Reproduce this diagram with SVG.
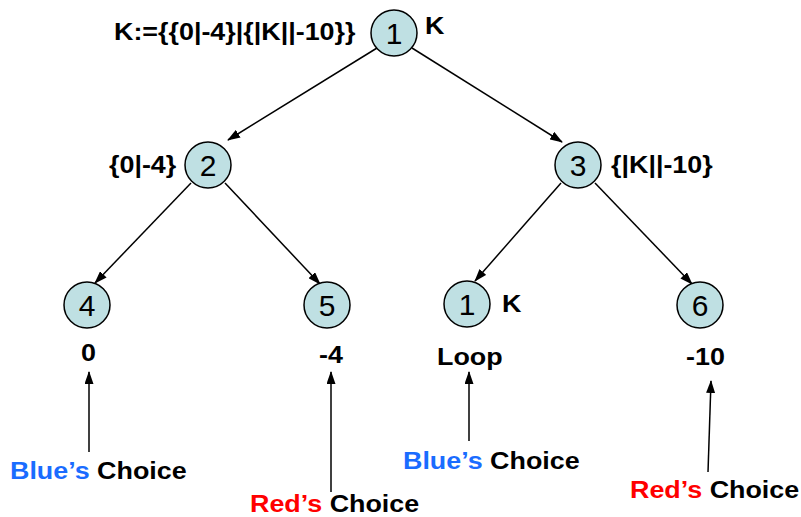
<svg xmlns="http://www.w3.org/2000/svg" width="801" height="517" viewBox="0 0 801 517">
  <style>
    .node circle { fill: #bfe0e3; stroke: #000; stroke-width: 1.5; }
    .num { font-family: "Liberation Sans", Arial, sans-serif; font-size: 30px; text-anchor: middle; fill: #000; }
    .lbl { font-family: "Liberation Sans", Arial, sans-serif; font-size: 24px; font-weight: bold; fill: #000; }
    .blue { fill: #1a6cff; }
    .red { fill: #ff0000; }
    .edges line { stroke: #000; stroke-width: 1.5; marker-end: url(#arrow); }
  </style>
  <defs>
    <marker id="arrow" viewBox="0 0 13 9" refX="12" refY="4.5" markerWidth="13" markerHeight="9" markerUnits="userSpaceOnUse" orient="auto">
      <path d="M0,0 L13,4.5 L0,9 z" fill="#000"/>
    </marker>
  </defs>
  <rect width="801" height="517" fill="#fff"/>

  <!-- tree edges and choice pointers -->
  <g id="connectors" class="edges">
    <line x1="377" y1="48" x2="228" y2="140"/>
    <line x1="412" y1="48" x2="562" y2="142"/>
    <line x1="191" y1="183" x2="95" y2="283"/>
    <line x1="225" y1="183" x2="320" y2="284"/>
    <line x1="561" y1="183" x2="475" y2="281"/>
    <line x1="595" y1="183" x2="692" y2="284"/>
    <line x1="89" y1="452" x2="89" y2="372"/>
    <line x1="331" y1="492" x2="331" y2="372"/>
    <line x1="469" y1="441" x2="469" y2="372"/>
    <line x1="708" y1="472" x2="711" y2="381"/>
  </g>

  <g id="node-1" class="node">
    <circle cx="394" cy="33" r="23"/>
    <text class="num" x="394" y="44">1</text>
    <text class="lbl" transform="translate(114,40) scale(1.12,1)">K:={{0|-4}|{|K||-10}}</text>
    <text class="lbl" transform="translate(425,34) scale(1.12,1)">K</text>
  </g>

  <g id="node-2" class="node">
    <circle cx="208" cy="165" r="23"/>
    <text class="num" x="208" y="176">2</text>
    <text class="lbl" transform="translate(109,173) scale(1.12,1)">{0|-4}</text>
  </g>

  <g id="node-3" class="node">
    <circle cx="578" cy="165" r="23"/>
    <text class="num" x="578" y="176">3</text>
    <text class="lbl" transform="translate(611,173) scale(1.12,1)">{|K||-10}</text>
  </g>

  <g id="node-4" class="node">
    <circle cx="87" cy="305" r="23"/>
    <text class="num" x="87" y="316">4</text>
    <text class="lbl" transform="translate(81,361) scale(1.12,1)">0</text>
  </g>

  <g id="node-5" class="node">
    <circle cx="327" cy="305" r="23"/>
    <text class="num" x="327" y="316">5</text>
    <text class="lbl" transform="translate(319,363) scale(1.12,1)">-4</text>
  </g>

  <g id="node-1-loop" class="node">
    <circle cx="467" cy="304" r="23"/>
    <text class="num" x="467" y="315">1</text>
    <text class="lbl" transform="translate(502,312) scale(1.12,1)">K</text>
    <text class="lbl" transform="translate(437,365) scale(1.12,1)">Loop</text>
  </g>

  <g id="node-6" class="node">
    <circle cx="700" cy="305" r="23"/>
    <text class="num" x="700" y="316">6</text>
    <text class="lbl" transform="translate(686,365) scale(1.12,1)">-10</text>
  </g>

  <g id="choice-labels">
    <text class="lbl" transform="translate(10,479) scale(1.12,1)"><tspan class="blue">Blue’s</tspan> Choice</text>
    <text class="lbl" transform="translate(250,512) scale(1.12,1)"><tspan class="red">Red’s</tspan> Choice</text>
    <text class="lbl" transform="translate(403,469) scale(1.12,1)"><tspan class="blue">Blue’s</tspan> Choice</text>
    <text class="lbl" transform="translate(630,498) scale(1.12,1)"><tspan class="red">Red’s</tspan> Choice</text>
  </g>
</svg>
